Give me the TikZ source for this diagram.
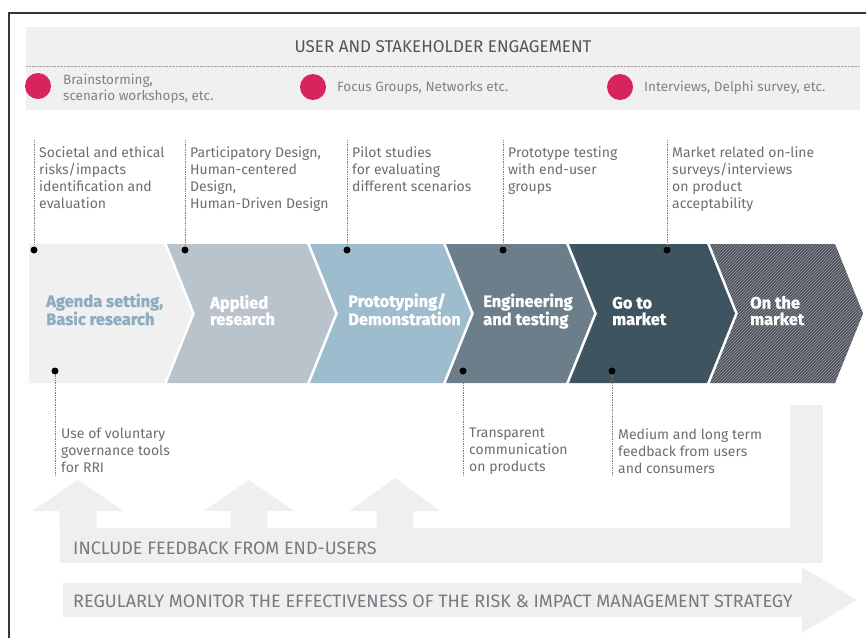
\documentclass[tikz,border=0pt]{standalone}
\usepackage{fontspec}
\setmainfont{Fira Sans}
\usepackage{tikz}
\usetikzlibrary{positioning,calc,patterns}
\definecolor{framegray}{RGB}{55,55,55}
\definecolor{bandgray}{RGB}{240,240,240}
\definecolor{engred}{RGB}{216,36,92}
\definecolor{titlegray}{RGB}{80,85,90}
\definecolor{itemgray}{RGB}{125,131,138}
\definecolor{notegray}{RGB}{105,110,116}
\definecolor{capsgray}{RGB}{118,123,128}
\definecolor{stageA}{RGB}{240,240,240}
\definecolor{stageAtext}{RGB}{142,172,192}
\definecolor{stageB}{RGB}{184,195,204}
\definecolor{stageC}{RGB}{157,189,207}
\definecolor{stageD}{RGB}{108,126,138}
\definecolor{stageE}{RGB}{62,84,96}
\definecolor{stageF}{RGB}{78,82,90}
\definecolor{hatchgray}{RGB}{150,154,162}
\definecolor{softgray}{RGB}{239,239,239}
\tikzset{
    engdot/.style={circle, fill=engred, inner sep=0pt, minimum size=26pt},
    engitem/.style={anchor=west, align=left, text=itemgray, inner sep=0pt, font=\fontsize{13.5}{16}\selectfont},
    pin/.style={circle, fill=black, inner sep=0pt, minimum size=7pt},
    pinline/.style={gray, line width=0.6pt, dash pattern=on 0.8pt off 0.9pt},
    note/.style={anchor=north west, align=left, text=notegray, inner sep=0pt, font=\fontsize{14}{17}\selectfont},
    stage/.style={line width=0pt},
    stagelabel/.style={anchor=base west, align=left, text=white, inner sep=0pt,
        font=\fontsize{16.5}{16.5}\selectfont\bfseries\addfontfeature{FakeBold=1.2}},
    caps/.style={anchor=west, text=capsgray, inner sep=0pt, font=\fontsize{18}{20}\selectfont},
    softshape/.style={fill=softgray},
}

\begin{document}
\begin{tikzpicture}[x=1pt, y=-1pt]
    \useasboundingbox (0,0) rectangle (866,638);
    \draw[framegray, line width=1.3pt] (9,638) -- (9,13) -- (866,13);

    % engagement band
    \fill[bandgray] (26,27) rectangle (860,110);
    \node[text=titlegray, inner sep=0pt, font=\fontsize{17}{19}\selectfont] (title) at (443,47) {USER AND STAKEHOLDER ENGAGEMENT};
    \draw[gray!70, line width=0.6pt, dash pattern=on 0.6pt off 0.8pt] (26,66) -- (860,66);
    \node[engdot] (E1) at (38,86) {};
    \node[engdot] (E2) at (313,87) {};
    \node[engdot] (E3) at (620,87) {};
    \node[engitem] (I1) at (63,89) {Brainstorming,\\scenario workshops, etc.};
    \node[engitem] (I2) at (337,88) {Focus Groups, Networks etc.};
    \node[engitem] (I3) at (644,88) {Interviews, Delphi survey, etc.};

    % innovation stages
    \fill[stage, stageA] (29,244) -- (164,244) -- (192,313.5) -- (164,383) -- (29,383) -- cycle;
    \foreach \l/\r/\c in {167/307/stageB, 310/443/stageC, 446/566/stageD, 569/707/stageE} {
        \fill[stage, \c] (\l,244) -- (\r,244) -- (\r+28,313.5) -- (\r,383) -- (\l,383) -- (\l+28,313.5) -- cycle;
    }
    \fill[stage, stageF, postaction={pattern=north east lines, pattern color=hatchgray}]
        (710,244) -- (835,244) -- (863,313.5) -- (835,383) -- (710,383) -- (738,313.5) -- cycle;

    \node[stagelabel, text=stageAtext] (S1) at (46,325) {Agenda setting,\\Basic research};
    \node[stagelabel] (S2) at (210,325) {Applied\\research};
    \node[stagelabel] (S3) at (348,325) {Prototyping/\\Demonstration};
    \node[stagelabel] (S4) at (483,325) {Engineering\\and testing};
    \node[stagelabel] (S5) at (612,325) {Go to\\market};
    \node[stagelabel] (S6) at (750,325) {On the\\market};

    % actions above the stages
    \foreach \x/\n/\txt in {
        34/1/{Societal and ethical\\risks/impacts\\identification and\\evaluation},
        185/2/{Participatory Design,\\Human-centered\\Design,\\Human-Driven Design},
        347/3/{Pilot studies\\for evaluating\\different scenarios},
        503/4/{Prototype testing\\with end-user\\groups},
        667/5/{Market related on-line\\surveys/interviews\\on product\\acceptability}} {
        \node[pin] (P\n) at (\x,250) {};
        \coordinate (T\n) at (\x,140);
        \draw[pinline] (P\n) -- (T\n);
        \node[note] (N\n) at (\x+5,146) {\txt};
    }

    % actions below the stages
    \foreach \x/\n/\txt in {
        55/1/{Use of voluntary\\governance tools\\for RRI},
        463/2/{Transparent\\communication\\on products},
        612/3/{Medium and long term\\feedback from users\\and consumers}} {
        \node[pin] (Q\n) at (\x,371) {};
        \coordinate (B\n) at (\x,476);
        \draw[pinline] (Q\n) -- (B\n);
        \node[note] (M\n) at (\x+6,428) {\txt};
    }

    % feedback loop
    \fill[softshape] (790,405) rectangle (823,563);
    \fill[softshape] (60,528) rectangle (823,563);
    \foreach \cx/\ty in {78/480, 249/480, 395/478} {
        \fill[softshape] (\cx-18.5,528) -- (\cx-18.5,511) -- (\cx-45.5,511) -- (\cx,\ty)
            -- (\cx+45.5,511) -- (\cx+18.5,511) -- (\cx+18.5,528) -- cycle;
    }
    \node[caps] (feedback) at (73,548) {INCLUDE FEEDBACK FROM END-USERS};

    % monitoring arrow
    \fill[softshape] (63,583) -- (802,583) -- (802,567) -- (857,600) -- (802,633) -- (802,617) -- (63,617) -- cycle;
    \node[caps] (monitor) at (73,601) {REGULARLY MONITOR THE EFFECTIVENESS OF THE RISK \& IMPACT MANAGEMENT STRATEGY};
\end{tikzpicture}
\end{document}
